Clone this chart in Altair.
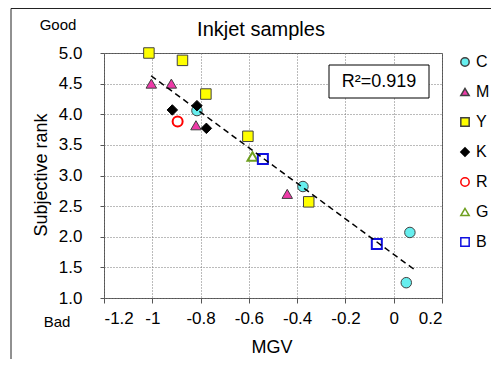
import altair as alt
import pandas as pd

# ---- data ----
series_names = ["C", "M", "Y", "K", "R", "G", "B"]
c_mgv = [-0.815, -0.376, 0.067, 0.052]
c_rank = [4.06, 2.82, 2.07, 1.25]
m_mgv = [-1.004, -0.921, -0.819, -0.441]
m_rank = [4.50, 4.50, 3.82, 2.70]
y_mgv = [-1.014, -0.875, -0.778, -0.604, -0.352]
y_rank = [5.00, 4.88, 4.33, 3.64, 2.57]
k_mgv = [-0.917, -0.815, -0.776]
k_rank = [4.07, 4.14, 3.77]
r_mgv = [-0.895]
r_rank = [3.88]
g_mgv = [-0.585]
g_rank = [3.31]
b_mgv = [-0.542, -0.070]
b_rank = [3.27, 1.88]

x_ticks = [-1.2, -1.0, -0.8, -0.6, -0.4, -0.2, 0.0, 0.2]
y_ticks = [1.0, 1.5, 2.0, 2.5, 3.0, 3.5, 4.0, 4.5, 5.0]
r2_label = "R\u00b2=0.919"

fills = ["#66EEEE", "#EE3AA8", "#FFFF00", "#000000", "transparent", "transparent", "transparent"]
strokes = ["#404040", "#404040", "#404040", "#000000", "#FF0000", "#6FA020", "#1010E0"]
shapes = ["circle", "triangle-up", "square", "diamond", "circle", "triangle-up", "square"]
open_series = ["R", "G", "B"]

rows = []
for name, xs, ys in [("C", c_mgv, c_rank), ("M", m_mgv, m_rank), ("Y", y_mgv, y_rank),
                     ("K", k_mgv, k_rank), ("R", r_mgv, r_rank), ("G", g_mgv, g_rank),
                     ("B", b_mgv, b_rank)]:
    for a, b in zip(xs, ys):
        rows.append({"series": name, "mgv": a, "rank": b, "open": name in open_series})
df = pd.DataFrame(rows)

FONT = "Liberation Sans"

xscale = alt.Scale(domain=[-1.2, 0.2], nice=False, zero=False)
yscale = alt.Scale(domain=[1.0, 5.0], nice=False, zero=False)

xaxis = alt.Axis(values=x_ticks, title=None, grid=True, gridDash=[1, 2], gridColor="#777777",
                 domain=False, tickColor="#555555", tickSize=5, labelFontSize=17, labelFont=FONT,
                 labelColor="black", labelPadding=7, labelOverlap=False,
                 labelExpr="datum.value < -1e-9 ? '-' + format(abs(datum.value), '.1~f') : format(abs(datum.value), '.1~f')")
yaxis = alt.Axis(values=y_ticks, title=None, grid=True, gridDash=[1, 2], gridColor="#777777",
                 domain=False, tickColor="#555555", tickSize=4, labelFontSize=17, labelFont=FONT,
                 labelColor="black", labelPadding=18, format=".1f", labelOverlap=False)

enc = dict(
    x=alt.X("mgv:Q", scale=xscale, axis=xaxis),
    y=alt.Y("rank:Q", scale=yscale, axis=yaxis),
    fill=alt.Fill("series:N", scale=alt.Scale(domain=series_names, range=fills), title=None,
                  sort=series_names),
    stroke=alt.Stroke("series:N", scale=alt.Scale(domain=series_names, range=strokes), title=None,
                      sort=series_names),
    shape=alt.Shape("series:N", scale=alt.Scale(domain=series_names, range=shapes), title=None,
                    sort=series_names),
)

filled_pts = alt.Chart(df).transform_filter("!datum.open").mark_point(
    opacity=1, fillOpacity=1, size=110, strokeWidth=1).encode(**enc)
open_pts = alt.Chart(df).transform_filter("datum.open").mark_point(
    opacity=1, fillOpacity=1, size=100, strokeWidth=2).encode(**enc)

reg = alt.Chart(df).transform_regression("mgv", "rank", extent=[-1.005, 0.092]).mark_line(
    color="black", strokeDash=[6, 4], strokeWidth=1.5
).encode(x=alt.X("mgv:Q", scale=xscale, axis=xaxis), y=alt.Y("rank:Q", scale=yscale, axis=yaxis))

one = pd.DataFrame({"k": [0]})

box = alt.Chart(one).mark_rect(fill="white", stroke="black", strokeWidth=1).encode(
    x=alt.value(225), x2=alt.value(325), y=alt.value(12), y2=alt.value(45))

def label(txt, x, y, size, angle=0):
    m = alt.Chart(one).mark_text(text=txt, font=FONT, fontSize=size, color="black",
                                 align="center", baseline="middle", angle=angle)
    return m.encode(x=alt.value(x), y=alt.value(y))

title = label("Inkjet samples", 157, -23, 20)
good = label("Good", -46, -28, 15)
bad = label("Bad", -47, 269, 15)
ytitle = label("Subjective rank", -62, 122, 18, angle=270)
xtitle = label("MGV", 168, 295, 18)
r2 = label(r2_label, 275, 29, 18)

frame_left = alt.Chart(one).mark_rule(color="#222222", strokeWidth=1).encode(
    x=alt.value(-93), y=alt.value(-44.5), y2=alt.value(310))
frame_top = alt.Chart(one).mark_rule(color="#222222", strokeWidth=1).encode(
    x=alt.value(-93), x2=alt.value(400), y=alt.value(-44.5))

chart = alt.layer(filled_pts, open_pts, reg, box, r2, title, good, bad, ytitle, xtitle,
                  frame_left, frame_top).properties(
    width=338, height=245,
    autosize=alt.AutoSizeParams(type="none"),
    padding={"left": 96, "top": 45, "right": 49, "bottom": 61},
).configure_view(stroke="#555555", strokeWidth=1).configure_legend(
    orient="none", legendX=353, legendY=1, padding=0, symbolSize=70, labelFontSize=16,
    labelFont=FONT, labelColor="black", rowPadding=14, labelOffset=3, symbolStrokeWidth=1.5,
)

chart.save("out.html", embed_options={"renderer": "svg", "actions": False})
